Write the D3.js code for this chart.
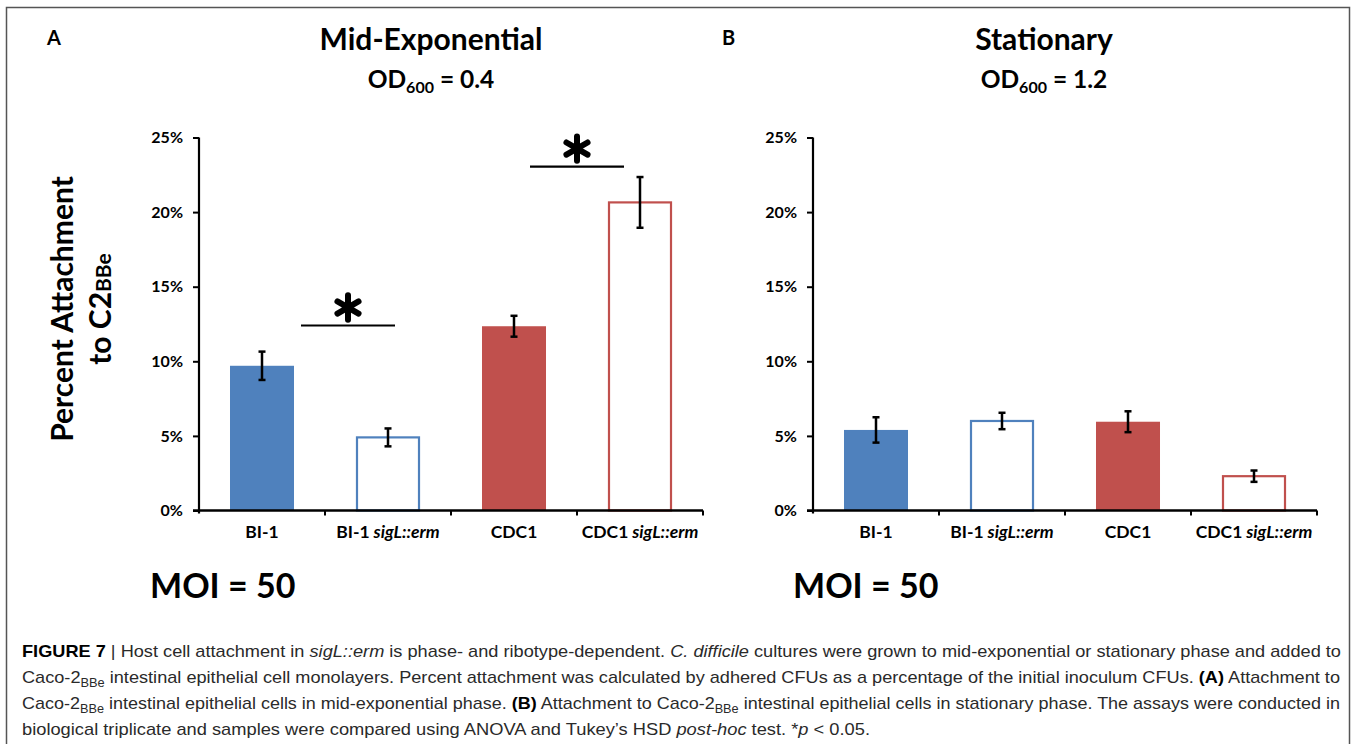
<!DOCTYPE html>
<html>
<head>
<meta charset="utf-8">
<script src="https://cdn.jsdelivr.net/npm/d3@7"></script>
<style>
  html, body { margin: 0; padding: 0; background: #fff; }
  svg { display: block; }
  .lab { font-family: Lato, "Open Sans", sans-serif; font-weight: 700; fill: #000; }
  .cap { font-family: "Liberation Sans Narrow", "Liberation Sans", Arial, sans-serif; fill: #2a2a2a; }
</style>
</head>
<body>
<script>
// ---- data -------------------------------------------------------------
const strains = ["BI-1", "BI-1", "CDC1", "CDC1"];
const mutantSuffix = ["", "sigL::erm", "", "sigL::erm"];
const midExpValues = [9.7, 4.9, 12.35, 20.65];      // % attachment, OD600 = 0.4
const midExpErrors = [0.95, 0.6, 0.7, 1.7];
const stationaryValues = [5.4, 6.0, 5.95, 2.3];      // % attachment, OD600 = 1.2
const stationaryErrors = [0.85, 0.55, 0.7, 0.38];
const yTickValues = [0, 5, 10, 15, 20, 25];
const midExpSignificance = [[0, 1, 12.4], [2, 3, 23.05]]; // bar a, bar b, bracket level (%)
const stationarySignificance = [];

// ---- layout -----------------------------------------------------------
const W = 1357, H = 744;
const blue = "#4F81BD", red = "#C0504D";
const yTop = 137.5, yBottom = 510.5;
const panelWidth = 504;
const sigShift = [23, 0]; // horizontal nudge for each bracket (px)

const svg = d3.select("body").append("svg").attr("width", W).attr("height", H);

// figure frame
svg.append("rect")
  .attr("x", 6.5).attr("y", 7.5).attr("width", 1343).attr("height", 760)
  .attr("fill", "none").attr("stroke", "#555").attr("stroke-width", 1.5);

const y = d3.scaleLinear().domain([0, 25]).range([yBottom, yTop]);
const categories = strains.map((s, i) => s + (mutantSuffix[i] ? " " + mutantSuffix[i] : ""));

function panel(cfg) {
  const g = svg.append("g");
  const x = d3.scaleBand().domain(categories)
    .range([cfg.x0, cfg.x0 + panelWidth])
    .paddingInner(0.492).paddingOuter(0.246);
  const step = x.step();

  // panel letter
  g.append("text").attr("class", "lab").attr("x", cfg.letterX).attr("y", 45)
    .attr("font-size", 20).text(cfg.letter);

  // titles
  g.append("text").attr("class", "lab").attr("x", cfg.titleX).attr("y", 50)
    .attr("text-anchor", "middle").attr("font-size", 30).text(cfg.title);
  const od = g.append("text").attr("class", "lab").attr("x", cfg.titleX).attr("y", 88)
    .attr("text-anchor", "middle").attr("font-size", 24.5);
  od.append("tspan").text("OD");
  od.append("tspan").attr("font-size", 16).attr("dy", 5).text("600");
  od.append("tspan").attr("dy", -5).text(" = " + cfg.od);

  // bars
  const rows = cfg.values.map((v, i) => ({ cat: categories[i], v, e: cfg.errors[i], i }));
  g.selectAll("rect.bar").data(rows).join("rect")
    .attr("class", "bar")
    .attr("x", d => x(d.cat) + (mutantSuffix[d.i] ? 1 : 0))
    .attr("width", d => x.bandwidth() - (mutantSuffix[d.i] ? 2 : 0))
    .attr("y", d => y(d.v))
    .attr("height", d => y(0) - y(d.v))
    .attr("fill", d => mutantSuffix[d.i] ? "#fff" : (strains[d.i] === "BI-1" ? blue : red))
    .attr("stroke", d => mutantSuffix[d.i] ? (strains[d.i] === "BI-1" ? blue : red) : "none")
    .attr("stroke-width", 2.2);

  // error bars
  const eb = g.selectAll("g.err").data(rows).join("g").attr("class", "err")
    .attr("stroke", "#000").attr("stroke-width", 2.5);
  eb.append("line")
    .attr("x1", d => x(d.cat) + x.bandwidth() / 2).attr("x2", d => x(d.cat) + x.bandwidth() / 2)
    .attr("y1", d => y(d.v + d.e)).attr("y2", d => y(d.v - d.e));
  [1, -1].forEach(s => {
    eb.append("line")
      .attr("x1", d => x(d.cat) + x.bandwidth() / 2 - 3.5).attr("x2", d => x(d.cat) + x.bandwidth() / 2 + 3.5)
      .attr("y1", d => y(d.v + s * d.e)).attr("y2", d => y(d.v + s * d.e));
  });

  // y axis
  const yAxis = d3.axisLeft(y).tickValues(yTickValues).tickSize(6).tickSizeOuter(0)
    .tickFormat(d => d + "%");
  const ya = g.append("g").attr("transform", `translate(${cfg.x0},0)`).call(yAxis);
  ya.select(".domain").attr("stroke", "#000").attr("stroke-width", 2.2)
    .attr("d", `M0,${yTop}V${yBottom + 3}`);
  ya.selectAll(".tick line").attr("stroke", "#000").attr("stroke-width", 2);
  ya.selectAll(".tick text").attr("class", "lab").attr("font-size", 16).attr("x", -16)
    .attr("fill", "#000");

  // x axis: baseline with category boundary ticks
  g.append("line").attr("x1", cfg.x0 - 6).attr("x2", cfg.x0 + panelWidth)
    .attr("y1", yBottom).attr("y2", yBottom).attr("stroke", "#000").attr("stroke-width", 2.4);
  const bounds = d3.range(categories.length + 1).map(k => cfg.x0 + k * step);
  g.selectAll("line.xt").data(bounds.slice(1)).join("line").attr("class", "xt")
    .attr("x1", d => d).attr("x2", d => d).attr("y1", yBottom).attr("y2", yBottom + 5)
    .attr("stroke", "#000").attr("stroke-width", 2);

  // category labels
  const xl = g.selectAll("text.xl").data(rows).join("text")
    .attr("class", "lab xl").attr("font-size", 17.5).attr("text-anchor", "middle")
    .attr("x", d => x(d.cat) + x.bandwidth() / 2).attr("y", 538);
  xl.append("tspan").text(d => strains[d.i]);
  xl.filter(d => mutantSuffix[d.i]).append("tspan").attr("font-style", "italic")
    .text(d => " " + mutantSuffix[d.i]);

  // significance brackets
  cfg.sig.forEach((s, k) => {
    const mid = (x(categories[s[0]]) + x(categories[s[1]]) + x.bandwidth()) / 2 + sigShift[k];
    const yy = y(s[2]);
    g.append("line").attr("x1", mid - 47).attr("x2", mid + 47).attr("y1", yy).attr("y2", yy)
      .attr("stroke", "#000").attr("stroke-width", 2.2);
    g.append("path").attr("d", d3.symbol(d3.symbolAsterisk, 420)())
      .attr("transform", `translate(${mid},${yy - 18})`)
      .attr("fill", "none").attr("stroke", "#000").attr("stroke-width", 6)
      .attr("stroke-linecap", "round");
  });

  // MOI note
  g.append("text").attr("class", "lab").attr("x", cfg.moiX).attr("y", 598)
    .attr("font-size", 34).text("MOI = 50");
}

panel({ x0: 199, letter: "A", letterX: 47, titleX: 431, title: "Mid-Exponential", od: "0.4",
        values: midExpValues, errors: midExpErrors, sig: midExpSignificance, moiX: 150 });
panel({ x0: 813, letter: "B", letterX: 722, titleX: 1044, title: "Stationary", od: "1.2",
        values: stationaryValues, errors: stationaryErrors, sig: stationarySignificance, moiX: 793 });

// shared y-axis title
const yt = svg.append("g").attr("transform", "translate(0,309) rotate(-90)");
yt.append("text").attr("class", "lab").attr("x", 0).attr("y", 73).attr("text-anchor", "middle")
  .attr("font-size", 30).text("Percent Attachment");
const yt2 = yt.append("text").attr("class", "lab").attr("x", 0).attr("y", 111)
  .attr("text-anchor", "middle").attr("font-size", 30);
yt2.append("tspan").text("to C2");
yt2.append("tspan").attr("font-size", 21).text("BBe");

// caption
const capLines = [
  [["b", "FIGURE 7"], ["", " | Host cell attachment in "], ["i", "sigL::erm"], ["", " is phase- and ribotype-dependent. "], ["i", "C. difficile"], ["", " cultures were grown to mid-exponential or stationary phase and added to"]],
  [["", "Caco-2"], ["sub", "BBe"], ["", " intestinal epithelial cell monolayers. Percent attachment was calculated by adhered CFUs as a percentage of the initial inoculum CFUs. "], ["b", "(A)"], ["", " Attachment to"]],
  [["", "Caco-2"], ["sub", "BBe"], ["", " intestinal epithelial cells in mid-exponential phase. "], ["b", "(B)"], ["", " Attachment to Caco-2"], ["sub", "BBe"], ["", " intestinal epithelial cells in stationary phase. The assays were conducted in"]],
  [["", "biological triplicate and samples were compared using ANOVA and Tukey\u2019s HSD "], ["i", "post-hoc"], ["", " test. *"], ["i", "p"], ["", " < 0.05."]]
];
const capWidths = [1319, 1318, 1318, 848];
capLines.forEach((line, li) => {
  const t = svg.append("text").attr("class", "cap").attr("x", 22).attr("y", 657 + li * 26)
    .attr("font-size", 17).attr("textLength", capWidths[li]).attr("lengthAdjust", "spacingAndGlyphs");
  let sub = false;
  line.forEach(([style, str]) => {
    const ts = t.append("tspan").text(str);
    if (style === "b") ts.attr("font-weight", 700).attr("fill", "#000");
    if (style === "i") ts.attr("font-style", "italic");
    if (style === "sub") { ts.attr("font-size", 12).attr("dy", 4); sub = true; }
    else if (sub) { ts.attr("dy", -4); sub = false; }
  });
});
</script>
</body>
</html>
